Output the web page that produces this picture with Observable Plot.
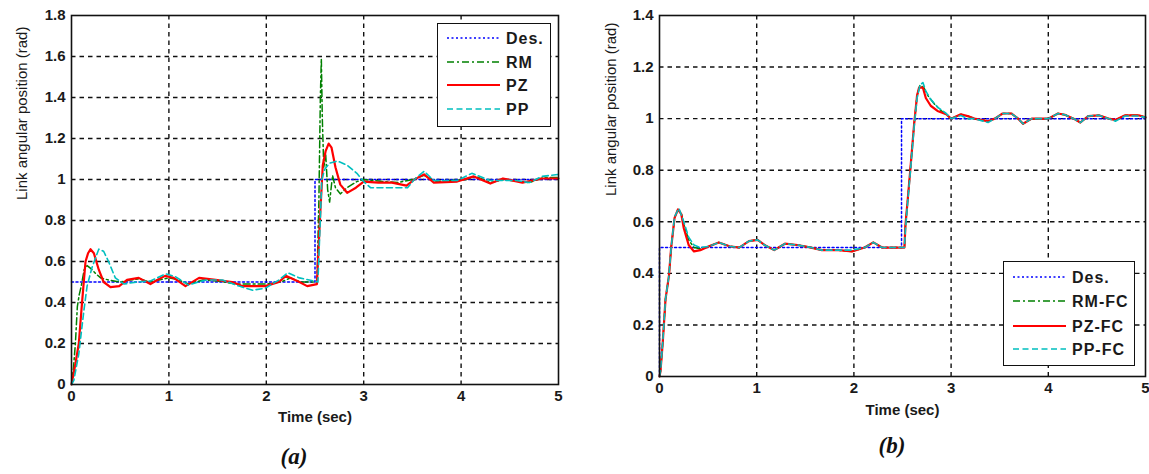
<!DOCTYPE html>
<html><head><meta charset="utf-8">
<script src="https://cdn.jsdelivr.net/npm/d3@7"></script>
<script src="https://cdn.jsdelivr.net/npm/@observablehq/plot@0.6"></script>
<style>
body{margin:0;background:#fff;width:1149px;height:474px;overflow:hidden;font-family:Arial,"Liberation Sans",sans-serif;}
#wrap{position:relative;width:1149px;height:474px;}
.panel{position:absolute;top:0;}
.legend{position:absolute;background:#fff;border:1.5px solid #111;box-sizing:border-box;}
.legend svg{display:block;}
.caption{position:absolute;font-family:"Liberation Serif","Times New Roman",serif;font-style:italic;font-weight:bold;font-size:23px;color:#111;transform:translate(-50%,-50%);white-space:nowrap;}
</style></head><body><div id="wrap"></div>
<script>
// ---------- data ----------
const xTicks = [0, 1, 2, 3, 4, 5];
const yTicksA = [0, 0.2, 0.4, 0.6, 0.8, 1, 1.2, 1.4, 1.6, 1.8];
const yTicksB = [0, 0.2, 0.4, 0.6, 0.8, 1, 1.2, 1.4];
const legendA = ["Des.", "RM", "PZ", "PP"];
const legendB = ["Des.", "RM-FC", "PZ-FC", "PP-FC"];
const xLabel = "Time (sec)";
const yLabel = "Link angular position (rad)";
const captions = ["(a)", "(b)"];

// panel (a): [time, position]
const aDes = [[0,0.5],[2.5,0.5],[2.5,1],[5,1]];
const aRM = [[0,0],[0.02,0.08],[0.04,0.2],[0.06,0.38],[0.08,0.44],[0.1,0.48],[0.13,0.56],[0.16,0.58],[0.2,0.565],[0.25,0.54],[0.3,0.52],[0.38,0.51],[0.5,0.5],[0.6,0.51],[0.7,0.515],[0.8,0.5],[0.9,0.51],[1.0,0.52],[1.1,0.51],[1.2,0.49],[1.35,0.51],[1.5,0.505],[1.7,0.49],[1.9,0.49],[2.0,0.49],[2.15,0.5],[2.25,0.52],[2.35,0.5],[2.45,0.5],[2.52,0.5],[2.54,0.9],[2.555,1.4],[2.565,1.59],[2.575,1.3],[2.59,1.06],[2.61,1.12],[2.63,0.95],[2.65,0.89],[2.68,1.02],[2.71,0.96],[2.76,0.93],[2.83,0.96],[2.93,0.99],[3.0,1.0],[3.2,0.99],[3.35,0.985],[3.5,1.0],[3.62,1.02],[3.75,0.99],[3.9,0.995],[4.05,1.0],[4.15,1.015],[4.3,0.985],[4.45,1.0],[4.6,0.99],[4.7,0.985],[4.85,1.01],[5,1.01]];
const aPZ = [[0,0],[0.04,0.1],[0.075,0.2],[0.11,0.41],[0.144,0.6],[0.17,0.64],[0.195,0.66],[0.23,0.64],[0.28,0.56],[0.33,0.5],[0.4,0.475],[0.49,0.48],[0.57,0.51],[0.69,0.52],[0.81,0.49],[0.88,0.51],[0.96,0.53],[1.05,0.52],[1.17,0.48],[1.31,0.52],[1.48,0.51],[1.65,0.5],[1.75,0.48],[1.99,0.48],[2.13,0.5],[2.2,0.53],[2.34,0.5],[2.42,0.48],[2.52,0.49],[2.55,0.8],[2.58,1.07],[2.61,1.14],[2.64,1.175],[2.67,1.155],[2.71,1.06],[2.76,0.975],[2.83,0.935],[2.92,0.96],[3.0,0.99],[3.15,0.985],[3.29,0.985],[3.44,0.97],[3.52,1.0],[3.62,1.025],[3.72,0.985],[3.96,0.99],[4.13,1.015],[4.3,0.98],[4.43,1.005],[4.63,0.985],[4.83,1.005],[5.0,1.005]];
const aPP = [[0,0],[0.024,0.02],[0.075,0.15],[0.127,0.36],[0.16,0.48],[0.21,0.57],[0.28,0.66],[0.33,0.65],[0.38,0.6],[0.45,0.52],[0.54,0.49],[0.67,0.5],[0.81,0.505],[0.97,0.54],[1.07,0.525],[1.2,0.485],[1.38,0.51],[1.55,0.51],[1.72,0.48],[1.86,0.46],[1.99,0.47],[2.13,0.51],[2.22,0.545],[2.34,0.52],[2.49,0.505],[2.53,0.5],[2.55,0.75],[2.57,1.0],[2.6,1.05],[2.65,1.08],[2.73,1.09],[2.83,1.07],[2.93,1.03],[3.0,0.99],[3.07,0.96],[3.29,0.96],[3.45,0.96],[3.52,1.0],[3.62,1.04],[3.72,0.995],[3.96,0.995],[4.11,1.03],[4.3,0.995],[4.57,0.995],[4.7,0.985],[4.83,1.015],[5.0,1.025]];

// panel (b): [time, position]
const bDes = [[0,0],[0,0.5],[2.49,0.5],[2.49,1],[5,1]];
const bRM = [[0,0],[0.01,0.02],[0.034,0.135],[0.062,0.3],[0.097,0.39],[0.12,0.5],[0.155,0.615],[0.19,0.648],[0.224,0.635],[0.25,0.59],[0.3,0.53],[0.355,0.5],[0.42,0.495],[0.51,0.505],[0.61,0.52],[0.72,0.505],[0.82,0.5],[0.92,0.525],[1.01,0.53],[1.08,0.51],[1.18,0.49],[1.29,0.515],[1.42,0.51],[1.56,0.5],[1.67,0.49],[1.84,0.49],[1.98,0.485],[2.11,0.5],[2.2,0.52],[2.29,0.5],[2.52,0.5],[2.53,0.585],[2.55,0.67],[2.58,0.8],[2.6,0.89],[2.62,0.98],[2.65,1.09],[2.68,1.13],[2.72,1.12],[2.76,1.09],[2.82,1.06],[2.9,1.03],[2.97,1.01],[3.0,1.0],[3.1,1.017],[3.17,1.01],[3.24,1.0],[3.38,0.99],[3.45,1.0],[3.53,1.02],[3.62,1.02],[3.69,1.0],[3.74,0.98],[3.83,1.0],[4.0,1.0],[4.1,1.02],[4.17,1.015],[4.26,1.0],[4.33,0.985],[4.41,1.01],[4.52,1.013],[4.62,1.0],[4.69,0.995],[4.79,1.013],[4.93,1.013],[5.0,1.005]];
const bPZ = [[0,0],[0.01,0.02],[0.034,0.135],[0.062,0.3],[0.097,0.39],[0.12,0.5],[0.155,0.615],[0.19,0.648],[0.224,0.63],[0.25,0.575],[0.3,0.51],[0.355,0.485],[0.42,0.49],[0.51,0.505],[0.61,0.52],[0.72,0.505],[0.82,0.5],[0.92,0.525],[1.01,0.53],[1.08,0.51],[1.18,0.49],[1.29,0.515],[1.42,0.51],[1.56,0.5],[1.67,0.49],[1.84,0.49],[1.98,0.485],[2.11,0.5],[2.2,0.52],[2.29,0.5],[2.52,0.5],[2.53,0.585],[2.55,0.67],[2.58,0.8],[2.6,0.89],[2.62,0.98],[2.65,1.09],[2.67,1.12],[2.71,1.12],[2.74,1.08],[2.79,1.05],[2.86,1.03],[2.95,1.017],[3.0,1.0],[3.1,1.017],[3.17,1.01],[3.24,1.0],[3.38,0.99],[3.45,1.0],[3.53,1.02],[3.62,1.02],[3.69,1.0],[3.74,0.98],[3.83,1.0],[4.0,1.0],[4.1,1.02],[4.17,1.015],[4.26,1.0],[4.33,0.985],[4.41,1.01],[4.52,1.013],[4.62,1.0],[4.69,0.995],[4.79,1.013],[4.93,1.013],[5.0,1.005]];
const bPP = [[0,0],[0.01,0.02],[0.034,0.135],[0.062,0.3],[0.097,0.39],[0.12,0.5],[0.155,0.62],[0.2,0.652],[0.25,0.6],[0.3,0.54],[0.355,0.51],[0.42,0.5],[0.51,0.505],[0.61,0.52],[0.72,0.505],[0.82,0.5],[0.92,0.525],[1.01,0.53],[1.08,0.51],[1.18,0.49],[1.29,0.515],[1.42,0.51],[1.56,0.5],[1.67,0.49],[1.84,0.49],[1.98,0.49],[2.11,0.5],[2.2,0.52],[2.29,0.5],[2.52,0.5],[2.53,0.57],[2.55,0.66],[2.58,0.79],[2.6,0.88],[2.62,0.97],[2.65,1.08],[2.68,1.13],[2.71,1.14],[2.74,1.107],[2.79,1.075],[2.86,1.045],[2.95,1.02],[3.0,1.0],[3.1,1.012],[3.17,1.0],[3.24,1.0],[3.38,0.985],[3.45,1.0],[3.53,1.02],[3.62,1.02],[3.69,1.0],[3.74,0.98],[3.83,1.0],[4.0,1.0],[4.1,1.02],[4.17,1.015],[4.26,1.0],[4.33,0.985],[4.41,1.01],[4.52,1.013],[4.62,1.0],[4.69,0.99],[4.79,1.01],[4.93,1.01],[5.0,1.005]];

// ---------- styles ----------
const seriesStyle = [
  {color:"#0000ff", w:1.5, dash:"2,2.5"},
  {color:"#008000", w:1.5, dash:"7,3,2,3"},
  {color:"#ff0000", w:2.2, dash:null},
  {color:"#00bfbf", w:1.6, dash:"6,3.5"}
];
const ink = "#1a1a1a";

function makePanel(series, yTicks, opts) {
  const yMax = yTicks[yTicks.length - 1];
  const gridStyle = {stroke:"#111", strokeOpacity:1, strokeWidth:1.4, strokeDasharray:"4.5,4"};
  const marks = [
    Plot.gridX(xTicks.slice(1, -1), gridStyle),
    Plot.gridY(yTicks.slice(1, -1), gridStyle),
    ...series.map((s, i) => Plot.line(s, {x: d => d[0], y: d => d[1], stroke: seriesStyle[i].color, strokeWidth: seriesStyle[i].w, strokeDasharray: seriesStyle[i].dash})),
    Plot.frame({stroke:"#111", strokeWidth:1.6}),
    Plot.axisX(xTicks, {tickSize:0, tickPadding:opts.xPad, fontSize:15, fontWeight:"bold", fill:ink, tickFormat: d => String(d), label:null}),
    Plot.axisY(yTicks, {tickSize:0, tickPadding:6, fontSize:15, fontWeight:"bold", fill:ink, tickFormat: d => String(d), label:null}),
    Plot.text([xLabel], {text: d => d, frameAnchor:"bottom", dy:opts.xLabDy, fontSize:15, fontWeight:"bold", fill:ink, ariaLabel:"xlabel"}),
    Plot.text([yLabel], {text: d => d, frameAnchor:"left", dx:-opts.yLabDx, rotate:-90, fontSize:15, fill:ink, ariaLabel:"ylabel"})
  ];
  const svg = Plot.plot({
    width: opts.width, height: opts.height,
    marginLeft: opts.ml, marginRight: opts.mr, marginTop: opts.mt, marginBottom: opts.mb,
    x: {domain:[0,5]}, y: {domain:[0,yMax]},
    style: {fontFamily:'Arial, "Liberation Sans", sans-serif', background:"transparent", overflow:"visible"},
    marks
  });
  d3.select(svg).selectAll('g[aria-label="ylabel"] text').style("letter-spacing","1.8px");
  d3.select(svg).selectAll('g[aria-label="xlabel"] text').style("letter-spacing","1px");
  return svg;
}

function makeLegend(labels, box) {
  const div = document.createElement("div");
  div.className = "legend";
  Object.assign(div.style, {left: box.x+"px", top: box.y+"px", width: box.w+"px", height: box.h+"px"});
  const svg = d3.create("svg").attr("width", box.w - 3).attr("height", box.h - 3);
  labels.forEach((lab, i) => {
    const y = box.rows[i];
    const st = seriesStyle[i];
    svg.append("line").attr("x1", 9).attr("x2", 62).attr("y1", y).attr("y2", y)
      .attr("stroke", st.color).attr("stroke-width", st.w).attr("stroke-dasharray", st.dash);
    svg.append("text").attr("x", 68).attr("y", y).attr("dy", "0.36em")
      .attr("font-size", 16).attr("font-weight", "bold").attr("fill", ink)
      .style("letter-spacing", "1px").style("font-family", 'Arial, "Liberation Sans", sans-serif')
      .text(lab);
  });
  div.appendChild(svg.node());
  return div;
}

const wrap = document.getElementById("wrap");

const pa = document.createElement("div"); pa.className = "panel"; pa.style.left = "0px";
pa.appendChild(makePanel([aDes, aRM, aPZ, aPP], yTicksA, {width:575, height:440, ml:71, mr:17, mt:15, mb:56, xPad:6, xLabDy:37, yLabDx:49}));
wrap.appendChild(pa);

const pb = document.createElement("div"); pb.className = "panel"; pb.style.left = "575px";
pb.appendChild(makePanel([bDes, bRM, bPZ, bPP], yTicksB, {width:574, height:440, ml:84, mr:4, mt:15, mb:64, xPad:6, xLabDy:38, yLabDx:48}));
wrap.appendChild(pb);

wrap.appendChild(makeLegend(legendA, {x:437, y:23, w:114, h:104, rows:[14, 38, 61, 85]}));
wrap.appendChild(makeLegend(legendB, {x:1003, y:261, w:132, h:105, rows:[15, 39, 64, 87]}));

[[captions[0], 294, 457], [captions[1], 892, 446]].forEach(([t, x, y]) => {
  const c = document.createElement("div");
  c.className = "caption";
  c.style.left = x + "px"; c.style.top = y + "px";
  c.textContent = t;
  wrap.appendChild(c);
});
</script>
</body></html>
